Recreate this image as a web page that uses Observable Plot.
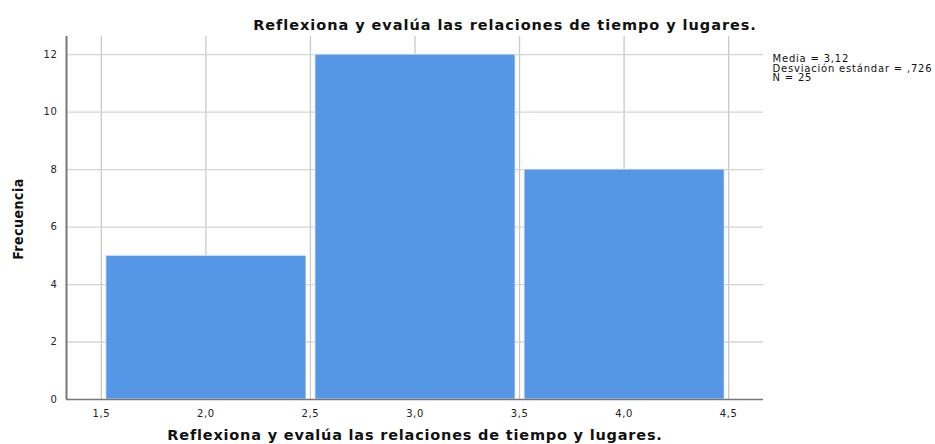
<!DOCTYPE html>
<html>
<head>
<meta charset="utf-8">
<script src="https://cdn.jsdelivr.net/npm/d3@7"></script>
<script src="https://cdn.jsdelivr.net/npm/@observablehq/plot@0.6"></script>
<style>
  html, body { margin: 0; padding: 0; background: #fff; }
  #chart svg { display: block; }
  .ylab text { letter-spacing: 0.5px; }
  .ttl text { letter-spacing: 0.95px; }
  .xl text { letter-spacing: 0.8px; }
  .stats text { letter-spacing: 0.8px; }
  .tk text { letter-spacing: 0.6px; }
</style>
</head>
<body>
<div id="chart"></div>
<script>
const binStarts = [1.5, 2.5, 3.5];
const binEnds = [2.5, 3.5, 4.5];
const frequencies = [5, 12, 8];
const xTicks = [1.5, 2.0, 2.5, 3.0, 3.5, 4.0, 4.5];
const yTicks = [0, 2, 4, 6, 8, 10, 12];
const titleText = "Reflexiona y evalúa las relaciones de tiempo y lugares.";
const xLabel = "Reflexiona y evalúa las relaciones de tiempo y lugares.";
const yLabel = "Frecuencia";
const statsLines = ["Media = 3,12", "Desviación estándar = ,726", "N = 25"];

const bins = binStarts.map((s, i) => ({x1: s, x2: binEnds[i], y: frequencies[i]}));
const fmt = d => d3.format(".1f")(d).replace(".", ",");
const wide = "'DejaVu Sans', Verdana, sans-serif";

const chart = Plot.plot({
  width: 935,
  height: 444,
  marginLeft: 66,
  marginRight: 172,
  marginTop: 36,
  marginBottom: 45,
  style: {fontFamily: wide, fontSize: "10px", color: "#222", background: "#fff"},
  x: {domain: [1.3333, 4.6667], ticks: xTicks, tickFormat: fmt, label: null},
  y: {domain: [0, 12.63], ticks: yTicks, label: null},
  marks: [
    Plot.gridX(xTicks, {stroke: "#c8c8c8", strokeOpacity: 1, strokeWidth: 1.3}),
    Plot.gridY(yTicks.filter(d => d > 0), {stroke: "#d4d4d4", strokeOpacity: 1, strokeWidth: 1.3}),
    Plot.rectY(bins, {x1: "x1", x2: "x2", y: "y", fill: "#5596e6", stroke: "#e8f0fb", strokeWidth: 0.8, insetLeft: 5, insetRight: 4}),
    Plot.axisX(xTicks, {className: "tk", tickSize: 0, tickPadding: 10, tickFormat: fmt, fontSize: 10, fill: "#222", label: null}),
    Plot.axisY(yTicks, {className: "tk", tickSize: 0, tickPadding: 9, fontSize: 10, fill: "#222", label: null}),
    Plot.ruleY([0], {stroke: "#777", strokeWidth: 1.3}),
    Plot.ruleX([1.3333], {stroke: "#777", strokeWidth: 2}),
    Plot.text([titleText], {className: "ttl", frameAnchor: "top", dx: 90, dy: -17, fontSize: 14.5, fontWeight: "bold", fill: "#111"}),
    Plot.text([xLabel], {className: "xl", frameAnchor: "bottom", dy: 40, fontSize: 14.5, fontWeight: "bold", fill: "#111"}),
    Plot.text([yLabel], {className: "ylab", frameAnchor: "left", textAnchor: "middle", dx: -48, dy: 1, rotate: -90, fontSize: 14, fontWeight: "bold", fill: "#111", fontFamily: "'Liberation Sans Narrow', 'DejaVu Sans Condensed', sans-serif"}),
    Plot.text([statsLines.join("\n")], {className: "stats", frameAnchor: "top-right", textAnchor: "start", lineAnchor: "top", dx: 9, dy: 19, fontSize: 10, lineHeight: 0.95, fill: "#111"})
  ]
});
document.getElementById("chart").appendChild(chart);
</script>
</body>
</html>
